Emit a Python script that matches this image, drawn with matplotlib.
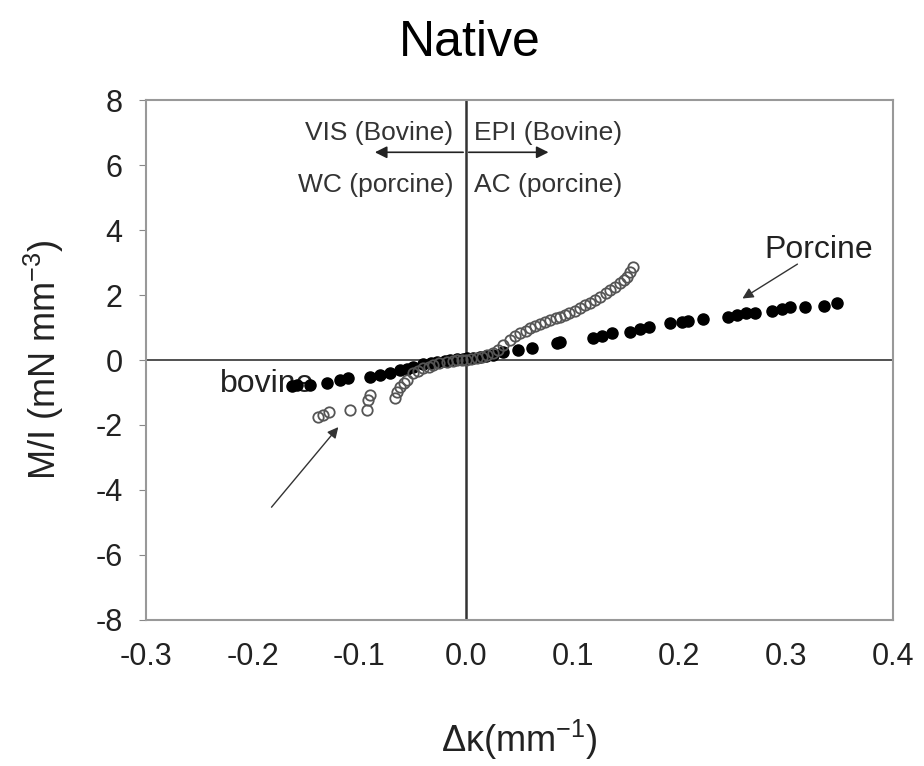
import numpy as np
from matplotlib import pyplot as plt

plt.rcParams['font.family'] = ['Liberation Sans', 'DejaVu Sans']
plt.rcParams['axes.unicode_minus'] = False
plt.rcParams['mathtext.default'] = 'regular'

# Bovine (open circles)
bovine_x = [-0.139, -0.134, -0.128, -0.109, -0.093, -0.092, -0.090, -0.067, -0.065, -0.062,
            -0.058, -0.055, -0.050, -0.045, -0.040, -0.035, -0.031, -0.025, -0.018, -0.012,
            -0.008, -0.004, 0.000, 0.005, 0.010, 0.015, 0.020, 0.025, 0.030, 0.035,
            0.041, 0.046, 0.051, 0.056, 0.060, 0.065, 0.069, 0.074, 0.079, 0.084,
            0.088, 0.093, 0.097, 0.102, 0.107, 0.112, 0.116, 0.121, 0.126, 0.131,
            0.135, 0.140, 0.144, 0.148, 0.151, 0.154, 0.157]
bovine_y = [-1.75, -1.68, -1.60, -1.54, -1.54, -1.23, -1.08, -1.17, -0.98, -0.83,
            -0.72, -0.62, -0.40, -0.33, -0.25, -0.20, -0.15, -0.10, -0.06, -0.03,
            0.00, 0.00, 0.00, 0.02, 0.05, 0.10, 0.15, 0.22, 0.30, 0.45,
            0.62, 0.73, 0.83, 0.90, 0.98, 1.05, 1.11, 1.17, 1.23, 1.28,
            1.32, 1.38, 1.45, 1.52, 1.60, 1.68, 1.75, 1.84, 1.94, 2.05,
            2.15, 2.26, 2.37, 2.46, 2.55, 2.70, 2.86]

# Porcine (filled circles)
porcine_x = [-0.163, -0.158, -0.146, -0.130, -0.118, -0.111, -0.090, -0.081, -0.071, -0.062,
             -0.055, -0.050, -0.040, -0.033, -0.027, -0.020, -0.015, -0.008, -0.003, 0.001,
             0.007, 0.013, 0.019, 0.025, 0.035, 0.049, 0.062, 0.085, 0.088, 0.119,
             0.128, 0.137, 0.154, 0.163, 0.172, 0.191, 0.203, 0.208, 0.222, 0.246,
             0.254, 0.263, 0.271, 0.287, 0.296, 0.304, 0.318, 0.336, 0.348]
porcine_y = [-0.80, -0.77, -0.78, -0.71, -0.62, -0.55, -0.52, -0.46, -0.40, -0.31,
             -0.27, -0.22, -0.12, -0.08, -0.06, -0.03, 0.00, 0.02, 0.03, 0.06,
             0.07, 0.09, 0.11, 0.15, 0.25, 0.31, 0.37, 0.52, 0.55, 0.68,
             0.74, 0.83, 0.86, 0.95, 1.02, 1.14, 1.17, 1.20, 1.26, 1.32,
             1.38, 1.45, 1.45, 1.51, 1.57, 1.63, 1.63, 1.66, 1.75]

xticks = [-0.3, -0.2, -0.1, 0.0, 0.1, 0.2, 0.3, 0.4]
yticks = [-8, -6, -4, -2, 0, 2, 4, 6, 8]

fig = plt.figure(figsize=(9.24, 7.66), dpi=100)
ax = fig.add_axes([0.158, 0.191, 0.808, 0.678])

ax.axhline(0, color='#333333', lw=1.2, zorder=1)
ax.axvline(0, color='#333333', lw=1.8, zorder=1)

ax.plot(porcine_x, porcine_y, 'o', color='black', ms=8, zorder=3)
ax.plot(bovine_x, bovine_y, 'o', mfc='none', mec='#555555', mew=1.3, ms=7.5, zorder=4)

ax.set_xlim(-0.3, 0.4)
ax.set_ylim(-8, 8)
ax.set_xticks(xticks)
ax.set_xticklabels(["%.1f" % t for t in xticks])
ax.set_yticks(yticks)
ax.tick_params(axis='x', length=0, pad=16, labelsize=22, colors='#222222')
ax.tick_params(axis='y', length=5, pad=12, labelsize=22, colors='#222222', color='#888888')
for s in ax.spines.values():
    s.set_color('#999999')
    s.set_linewidth(1.5)

ax.set_xlabel("\u0394\u03ba(mm$^{-1}$)", fontsize=26, labelpad=33, color='#222222')
ax.set_ylabel("M/I (mN mm$^{-3}$)", fontsize=26, labelpad=21, color='#222222')
fig.text(0.508, 0.944, "Native", ha='center', va='center', fontsize=36)

# direction annotations
ax.text(-0.012, 6.98, "VIS (Bovine)", ha='right', va='center', fontsize=19, color='#333333')
ax.text(0.008, 6.98, "EPI (Bovine)", ha='left', va='center', fontsize=19, color='#333333')
ax.text(-0.012, 5.38, "WC (porcine)", ha='right', va='center', fontsize=19, color='#333333')
ax.text(0.008, 5.38, "AC (porcine)", ha='left', va='center', fontsize=19, color='#333333')
ax.annotate("", xy=(-0.088, 6.4), xytext=(0.0, 6.4),
            arrowprops=dict(arrowstyle='-|>', color='#222222', lw=1.2, mutation_scale=18))
ax.annotate("", xy=(0.080, 6.4), xytext=(0.0, 6.4),
            arrowprops=dict(arrowstyle='-|>', color='#222222', lw=1.2, mutation_scale=18))

ax.text(0.28, 3.4, "Porcine", ha='left', va='center', fontsize=23, color='#222222')
ax.annotate("", xy=(0.257, 1.85), xytext=(0.313, 3.0),
            arrowprops=dict(arrowstyle='-|>', color='#333333', lw=1.0, mutation_scale=16))
ax.text(-0.231, -0.75, "bovine", ha='left', va='center', fontsize=23, color='#222222', zorder=2)
ax.annotate("", xy=(-0.118, -2.0), xytext=(-0.184, -4.6),
            arrowprops=dict(arrowstyle='-|>', color='#333333', lw=1.0, mutation_scale=16))

fig.savefig("out.png", dpi=100)
